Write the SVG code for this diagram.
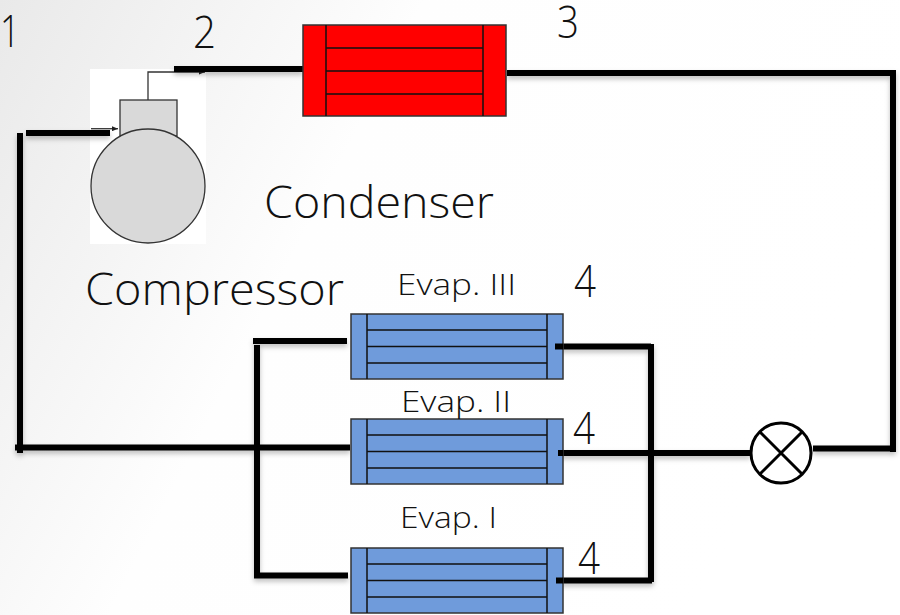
<svg xmlns="http://www.w3.org/2000/svg" width="900" height="615" viewBox="0 0 900 615">
<style>
.t{font-family:"Open Sans","Liberation Sans",sans-serif;font-weight:350;fill:#111}
.w{fill:none;stroke:#000;stroke-width:6}
.thin{fill:none;stroke:#333;stroke-width:1.3}
.evap{fill:#6f9bdb;stroke:#333;stroke-width:1.5}
.ln{stroke:#111;stroke-width:1.5;fill:none}
.cond{fill:#f00;stroke:#333;stroke-width:1.5}
</style>
<defs>
<linearGradient id="bg" x1="0" y1="0" x2="1" y2="0.35">
<stop offset="0" stop-color="#e9e9e9"/><stop offset="0.2" stop-color="#f3f3f3"/><stop offset="0.42" stop-color="#fefefe"/><stop offset="1" stop-color="#fff"/>
</linearGradient>
<filter id="sh" x="-5%" y="-5%" width="110%" height="110%"><feDropShadow dx="0" dy="3" stdDeviation="2.500" flood-color="#000" flood-opacity="0.25"/></filter>
<marker id="ah" markerUnits="userSpaceOnUse" markerWidth="6" markerHeight="5" refX="6" refY="2.500" orient="auto"><path d="M0 0L6 2.500L0 5Z" fill="#222"/></marker>
<g id="ev">
<rect class="evap" x="0" y="0" width="212" height="65"/>
<path class="ln" d="M16 0V65M196 0V65M16 16H196M16 32.500H196M16 49H196"/>
</g>
</defs>
<rect width="900" height="615" fill="url(#bg)"/>
<g id="compressor">
<rect x="90" y="69" width="116" height="175" fill="#fff"/>
<rect x="120" y="100" width="57" height="36" fill="#d9d9d9" stroke="#333" stroke-width="1.300"/>
<circle cx="148" cy="186" r="57" fill="#d9d9d9" stroke="#333" stroke-width="1.300"/>
<path class="thin" d="M148 100V72H205" marker-end="url(#ah)"/>
<path class="thin" d="M91 128.700H118" marker-end="url(#ah)"/>
</g>
<g id="connectors" filter="url(#sh)">
<path class="w" d="M26 133H110"/>
<path class="w" d="M20 133V453"/>
<path class="w" d="M174 69H303"/>
<path class="w" d="M507 73H893"/>
<path class="w" d="M893 70V452"/>
<path class="w" d="M813 448.500H896"/>
<path class="w" d="M558 453H750"/>
<path class="w" d="M15 447.500H350"/>
<path class="w" d="M257 345V578"/>
<path class="w" d="M253 341H347"/>
<path class="w" d="M254 575.500H348"/>
<path class="w" d="M555 346.500H651"/>
<path class="w" d="M651 344V582"/>
<path class="w" d="M556 580.500H652"/>
</g>
<g id="condenser">
<rect class="cond" x="303" y="25" width="203" height="91"/>
<path class="ln" d="M326 25V116M483 25V116M326 48H483M326 71H483M326 94H483"/>
</g>
<g id="evap3"><use href="#ev" x="351" y="314"/></g>
<g id="evap2"><use href="#ev" x="351" y="419"/></g>
<g id="evap1"><use href="#ev" x="351" y="548"/></g>
<path class="w" d="M555 346.500H563M558 453H563M556 580.500H563"/>
<g id="valve">
<circle cx="781" cy="453" r="30" fill="#fff" stroke="#000" stroke-width="3"/>
<path d="M760 432L802 474M802 432L760 474" stroke="#000" stroke-width="3" fill="none"/>
</g>
<g id="labels">
<text class="t" x="0" y="47" font-size="45" textLength="20" lengthAdjust="spacingAndGlyphs">1</text>
<text class="t" x="193" y="48" font-size="45" textLength="23" lengthAdjust="spacingAndGlyphs">2</text>
<text class="t" x="557" y="38" font-size="45" textLength="22" lengthAdjust="spacingAndGlyphs">3</text>
<text class="t" x="574" y="297" font-size="45" textLength="22" lengthAdjust="spacingAndGlyphs">4</text>
<text class="t" x="573" y="444" font-size="45" textLength="22" lengthAdjust="spacingAndGlyphs">4</text>
<text class="t" x="578" y="574" font-size="45" textLength="22" lengthAdjust="spacingAndGlyphs">4</text>
<text class="t" x="264" y="218" font-size="44" textLength="230" lengthAdjust="spacingAndGlyphs">Condenser</text>
<text class="t" x="85" y="305" font-size="44" textLength="259" lengthAdjust="spacingAndGlyphs">Compressor</text>
<text class="t" x="397" y="295" font-size="29" textLength="119" lengthAdjust="spacingAndGlyphs">Evap. III</text>
<text class="t" x="401" y="412" font-size="30" textLength="110" lengthAdjust="spacingAndGlyphs">Evap. II</text>
<text class="t" x="400" y="528" font-size="30" textLength="97" lengthAdjust="spacingAndGlyphs">Evap. I</text>
</g>
</svg>
